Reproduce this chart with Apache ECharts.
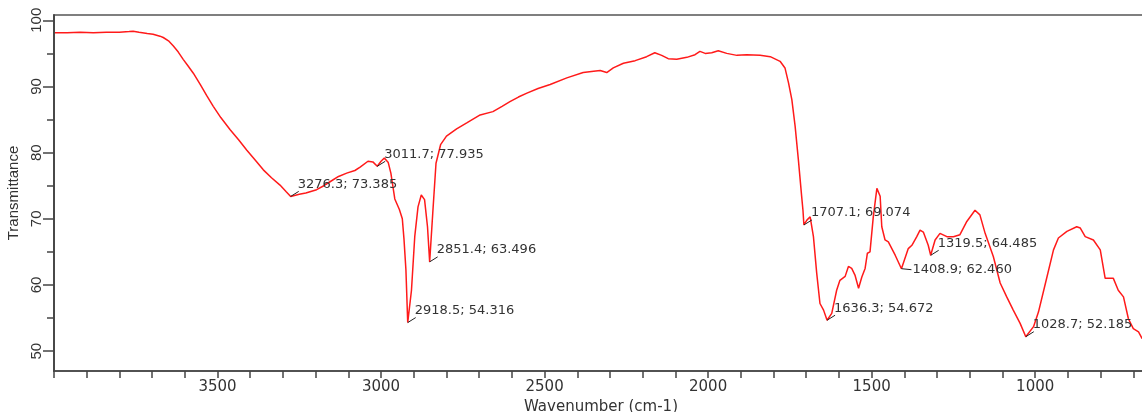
<!DOCTYPE html>
<html>
<head>
<meta charset="utf-8">
<script src="https://cdn.jsdelivr.net/npm/echarts@6/dist/echarts.min.js"></script>
<style>
html,body{margin:0;padding:0;background:#fff;overflow:hidden;}
#chart{width:1142px;height:412px;}
</style>
</head>
<body>
<div id="chart"></div>
<script>
// ---- data ----
const spectrumWavenumber = [
  3997, 3960, 3920, 3880, 3840, 3800, 3770, 3758, 3740, 3715, 3697, 3676, 3666, 3650, 3635, 3620, 3605, 3590, 3574, 3553,
  3533, 3513, 3490, 3462, 3435, 3411, 3385, 3360, 3335, 3309, 3290, 3276.3, 3250, 3230, 3197, 3175, 3156, 3130, 3105, 3080,
  3064, 3040, 3025, 3011.7, 3000, 2990, 2978, 2970, 2958, 2944, 2935, 2930, 2924, 2918.5, 2907, 2897, 2887, 2877, 2867, 2858,
  2851.4, 2842, 2832, 2818, 2800, 2769, 2738, 2697, 2658, 2630, 2606, 2580, 2554, 2520, 2483, 2432, 2382, 2350, 2330, 2310,
  2290, 2259, 2223, 2188, 2163, 2142, 2122, 2096, 2065, 2040, 2025, 2009, 1989, 1969, 1943, 1912, 1882, 1841, 1810, 1780,
  1765, 1754, 1744, 1734, 1724, 1714, 1710, 1707.1, 1698, 1688, 1678, 1668, 1658, 1647, 1636.3, 1622, 1607, 1597, 1581, 1571,
  1561, 1551, 1540, 1530, 1520, 1513, 1505, 1495, 1484, 1474, 1469, 1459, 1449, 1428, 1408.9, 1388, 1377, 1362, 1352, 1342,
  1327, 1319.5, 1306, 1291, 1270, 1250, 1230, 1209, 1184, 1169, 1153, 1128, 1107, 1087, 1067, 1046, 1028.7, 1005, 990, 964,
  944, 929, 903, 873, 862, 847, 822, 801, 786, 761, 746, 730, 715, 700, 684, 673
];
const spectrumTransmittance = [
  98.1, 98.1, 98.2, 98.1, 98.2, 98.2, 98.3, 98.35, 98.2, 98.0, 97.9, 97.6, 97.4, 96.9, 96.1, 95.2, 94.1, 93.1, 92.0, 90.3,
  88.6, 87.0, 85.3, 83.5, 81.9, 80.4, 78.9, 77.4, 76.2, 75.1, 74.1, 73.385, 73.7, 73.9, 74.4, 75.0, 75.6, 76.4, 76.9, 77.3,
  77.8, 78.7, 78.6, 77.935, 78.7, 79.2, 78.5, 76.9, 73.0, 71.4, 70.0, 67.0, 62.3, 54.316, 59.2, 67.3, 71.8, 73.6, 72.9, 68.8,
  63.496, 70.8, 78.4, 81.2, 82.5, 83.6, 84.5, 85.7, 86.2, 87.0, 87.7, 88.4, 89.0, 89.7, 90.3, 91.3, 92.1, 92.3, 92.4, 92.1,
  92.8, 93.5, 93.9, 94.5, 95.1, 94.7, 94.2, 94.1, 94.4, 94.8, 95.3, 95.0, 95.1, 95.4, 95.0, 94.7, 94.8, 94.7, 94.5, 93.8,
  92.8, 90.5, 88.0, 84.0, 78.9, 73.4, 71.3, 69.074, 69.8, 70.3, 67.3, 61.8, 57.2, 56.2, 54.672, 55.7, 59.2, 60.7, 61.3, 62.8,
  62.5, 61.5, 59.5, 61.2, 62.5, 64.8, 65.0, 70.3, 74.6, 73.4, 68.8, 66.8, 66.5, 64.5, 62.46, 65.5, 66.0, 67.3, 68.3, 68.0,
  66.0, 64.485, 66.8, 67.8, 67.3, 67.3, 67.6, 69.6, 71.3, 70.6, 67.8, 64.3, 60.3, 58.2, 56.2, 54.2, 52.185, 53.7, 55.9, 61.2,
  65.3, 67.1, 68.1, 68.8, 68.6, 67.3, 66.8, 65.3, 61.0, 61.0, 59.2, 58.2, 54.9, 53.4, 52.9, 51.9
];
const peakWavenumber = [3276.3, 3011.7, 2918.5, 2851.4, 1707.1, 1636.3, 1408.9, 1319.5, 1028.7];
const peakTransmittance = [73.385, 77.935, 54.316, 63.496, 69.074, 54.672, 62.460, 64.485, 52.185];
const xLabelValues = [1000, 1500, 2000, 2500, 3000, 3500];
const yLabelValues = [50, 60, 70, 80, 90, 100];
const yMinorTickValues = [55, 65, 75, 85, 95];

// ---- chart ----
const SIDE_LABEL_PEAK = 1408.9; // this label sits to the right of its point
const axisColor = '#444';
const textColor = '#333';
const gridRect = {left: 54, top: 15, width: 1112, height: 356, outerBoundsMode: 'none', containLabel: false};

const chart = echarts.init(document.getElementById('chart'), null, {renderer: 'canvas'});
const lineData = spectrumWavenumber.map((w, i) => [w, spectrumTransmittance[i]]);
const peakData = peakWavenumber.map((w, i) => [w, peakTransmittance[i]]);

chart.setOption({
  animation: false,
  backgroundColor: '#fff',
  grid: [
    Object.assign({show: true, borderColor: '#555', borderWidth: 1.5}, gridRect),
    Object.assign({show: false}, gridRect)
  ],
  xAxis: [{
    gridIndex: 0, type: 'value', min: 600, max: 4000, interval: 100, inverse: true, position: 'bottom',
    axisLine: {show: true, lineStyle: {color: axisColor, width: 1.5}},
    axisTick: {show: true, length: 7, lineStyle: {color: axisColor, width: 1.5}},
    axisLabel: {customValues: xLabelValues, formatter: v => String(v), margin: 9, fontSize: 15, fontFamily: 'DejaVu Sans', color: textColor},
    splitLine: {show: false},
    name: 'Wavenumber (cm-1)', nameLocation: 'middle', nameGap: 23,
    nameTextStyle: {fontSize: 15, fontFamily: 'DejaVu Sans', color: textColor, padding: [0, 18, 0, 0]}
  }, {
    gridIndex: 1, type: 'value', min: 600, max: 4000, inverse: true, show: false
  }],
  yAxis: [{
    gridIndex: 0, type: 'value', min: 47, max: 100.8, position: 'left',
    axisLine: {show: true, lineStyle: {color: axisColor, width: 1.5}},
    axisTick: {show: true, length: 11, customValues: yLabelValues, lineStyle: {color: axisColor, width: 1.5}},
    axisLabel: {customValues: yLabelValues, formatter: v => String(v), rotate: 90, margin: 10, fontSize: 15, fontFamily: 'Liberation Sans', color: textColor},
    splitLine: {show: false},
    name: 'Transmittance', nameLocation: 'middle', nameGap: 24, nameRotate: 90,
    nameTextStyle: {fontSize: 15, fontFamily: 'Liberation Sans', color: textColor}
  }, {
    gridIndex: 1, type: 'value', min: 47, max: 100.8, position: 'left',
    axisLine: {show: true, lineStyle: {color: axisColor, width: 1.5}},
    axisTick: {show: true, length: 7, customValues: yMinorTickValues, lineStyle: {color: axisColor, width: 1.5}},
    axisLabel: {show: false},
    splitLine: {show: false}
  }],
  series: [{
    type: 'line', data: lineData, xAxisIndex: 0, yAxisIndex: 0, showSymbol: false, symbol: 'none',
    lineStyle: {color: '#ff1a1a', width: 1.5}, smooth: false, z: 3
  }, {
    type: 'custom', coordinateSystem: 'cartesian2d', xAxisIndex: 0, yAxisIndex: 0, data: peakData, clip: false, z: 10,
    renderItem: function (params, api) {
      const w = api.value(0), t = api.value(1);
      const p = api.coord([w, t]);
      const side = Math.abs(w - SIDE_LABEL_PEAK) < 0.01;
      const lx = side ? 10 : 8, ly = side ? 1 : -5;
      const tx = side ? 11 : 7, ty = side ? 1 : -12;
      return {
        type: 'group',
        children: [{
          type: 'line',
          shape: {x1: p[0], y1: p[1], x2: p[0] + lx, y2: p[1] + ly},
          style: {stroke: '#222', lineWidth: 1}
        }, {
          type: 'text', x: p[0] + tx, y: p[1] + ty,
          style: {
            text: w.toFixed(1) + '; ' + t.toFixed(3),
            fill: textColor, fontSize: 13, fontFamily: 'DejaVu Sans',
            align: 'left', verticalAlign: 'middle'
          }
        }]
      };
    }
  }]
});
</script>
</body>
</html>
